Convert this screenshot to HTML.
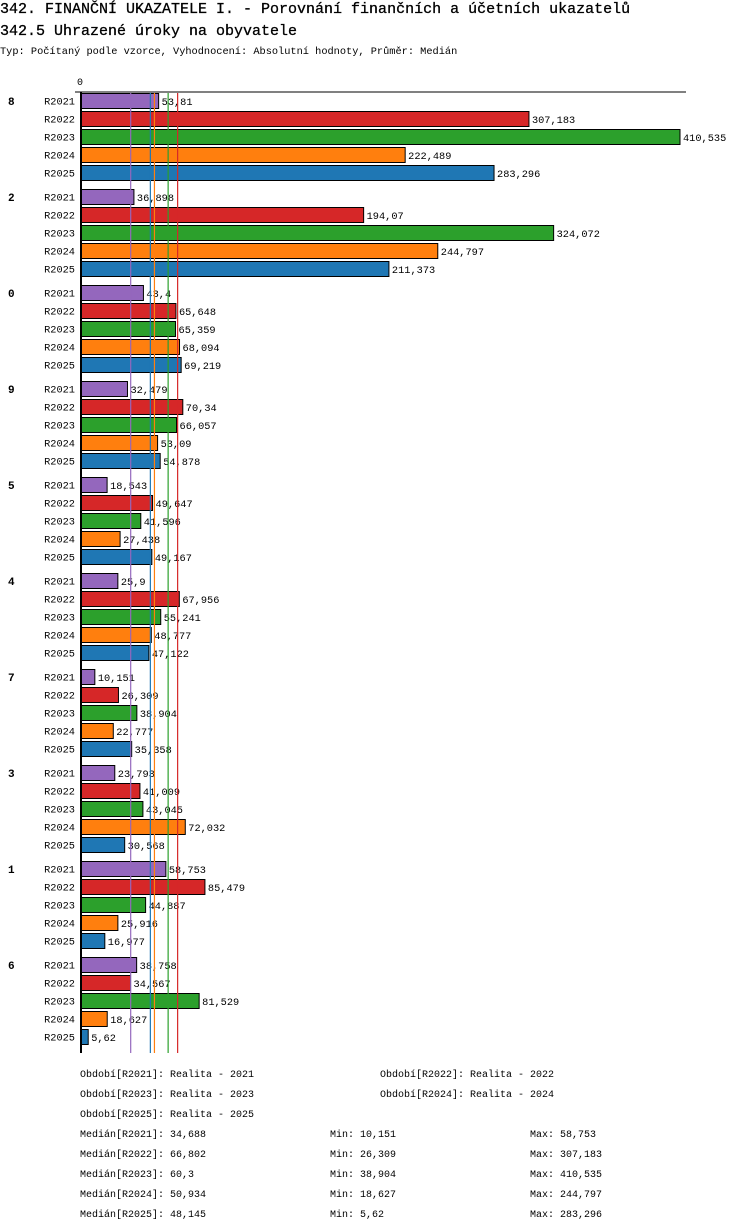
<!DOCTYPE html>
<html><head><meta charset="utf-8"><style>
body{margin:0;background:#fff;width:750px;height:1232px;overflow:hidden}
svg{display:block;font-family:"Liberation Mono",monospace}
</style></head><body>
<svg id="c" width="750" height="1232" xmlns="http://www.w3.org/2000/svg">
<text x="0" y="13" font-size="15" stroke="#000" stroke-width="0.3">342. FINANČNÍ UKAZATELE I. - Porovnání finančních a účetních ukazatelů</text>
<text x="0" y="35" font-size="15" stroke="#000" stroke-width="0.3">342.5 Uhrazené úroky na obyvatele</text>
<text x="0" y="54" font-size="10.3">Typ: Počítaný podle vzorce, Vyhodnocení: Absolutní hodnoty, Průměr: Medián</text>
<text x="77" y="85" font-size="10">0</text>
<g id="bars"></g>
<g id="meds"></g>
<line x1="75" y1="92" x2="686" y2="92" stroke="#000" stroke-width="1"/>
<line x1="81" y1="92" x2="81" y2="1053" stroke="#000" stroke-width="2"/>
<g id="foot" font-size="10"></g>
</svg>
<script>
const groups=["8","2","0","9","5","4","7","3","1","6"];
const series=["R2021","R2022","R2023","R2024","R2025"];
const colors=["#9467bd","#d62728","#2ca02c","#ff7f0e","#1f77b4"];
const v2021=[53.81,36.898,43.4,32.479,18.543,25.9,10.151,23.793,58.753,38.758];
const v2022=[307.183,194.07,65.648,70.34,49.647,67.956,26.309,41.009,85.479,34.567];
const v2023=[410.535,324.072,65.359,66.057,41.596,55.241,38.904,43.045,44.887,81.529];
const v2024=[222.489,244.797,68.094,53.09,27.438,48.777,22.777,72.032,25.916,18.627];
const v2025=[283.296,211.373,69.219,54.878,49.167,47.122,35.358,30.568,16.977,5.62];
const medians=[34.688,66.802,60.3,50.934,48.145];
const mins=[10.151,26.309,38.904,18.627,5.62];
const maxs=[58.753,307.183,410.535,244.797,283.296];
const vals=[v2021,v2022,v2023,v2024,v2025];
const NS="http://www.w3.org/2000/svg";
const x=v=>80+v*(600/410.535);
const rowY=(g,i)=>92+g*96+i*18;
const fmt=v=>String(v).replace('.',',');
function mk(tag,attrs,parent,txt){const e=document.createElementNS(NS,tag);for(const k in attrs)e.setAttribute(k,attrs[k]);if(txt!==undefined)e.textContent=txt;parent.appendChild(e);return e;}
const B=document.getElementById('bars');
groups.forEach((gname,g)=>{
  const gl=mk('text',{x:8,y:rowY(g,0)+13,'font-size':11,'font-weight':'bold'},B,gname);
  
  
  series.forEach((s,i)=>{
    const y=rowY(g,i), v=vals[i][g];
    const l=mk('text',{x:75,y:y+12.5,'font-size':10.3,'text-anchor':'end'},B,s);
    
    
    const r=mk('rect',{x:81,y:y+1.5,width:x(v)-81,height:15,fill:colors[i],stroke:'#000','stroke-width':1},B);
    
    
    const t=mk('text',{x:x(v)+3,y:y+13,'font-size':10.3},B,fmt(v));
    
    
  });
});
const M=document.getElementById('meds');
medians.forEach((m,i)=>{
  const l=mk('line',{x1:x(m),y1:93,x2:x(m),y2:1053,stroke:colors[i],'stroke-width':1.2},M);
  
  
});
const F=document.getElementById('foot');
const per=[[80,1077,0],[380,1077,1],[80,1097,2],[380,1097,3],[80,1117,4]];
per.forEach(p=>{
  const t=mk('text',{x:p[0],y:p[1]},F,'Období['+series[p[2]]+']: Realita - '+series[p[2]].slice(1));
  
  
});
series.forEach((s,i)=>{
  const y=1137+i*20;
  const a=mk('text',{x:80,y:y},F,'Medián['+s+']: '+fmt(medians[i]));
  
  
  const b=mk('text',{x:330,y:y},F,'Min: '+fmt(mins[i]));
  
  
  const c=mk('text',{x:530,y:y},F,'Max: '+fmt(maxs[i]));
  
  
});
</script>
</body></html>
